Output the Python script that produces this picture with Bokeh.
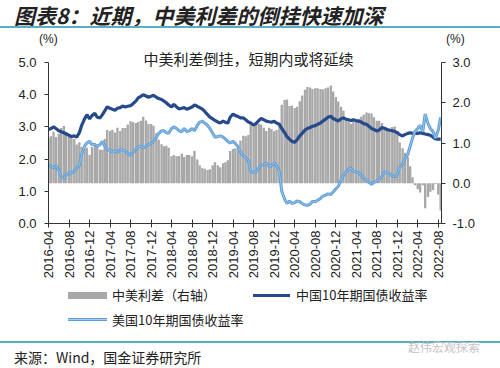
import numpy as np
import pandas as pd
from bokeh.plotting import figure
from bokeh.layouts import column
from bokeh.models import (Range1d, LinearAxis, FixedTicker, PrintfTickFormatter,
                          DatetimeTickFormatter, Label, ColumnDataSource, Div)
from bokeh.embed import file_html
from bokeh.resources import INLINE

# ---------------- data (semi-monthly readings, 2016-04 .. 2022-08) ----------------
cn_yield = [
    2.92, 2.95, 3.00, 2.95, 2.88, 2.85, 2.82, 2.78, 2.74, 2.70, 2.72, 2.68, 2.82, 3.05, 3.25, 3.38,
    3.25, 3.35, 3.42, 3.30, 3.28, 3.38, 3.50, 3.62, 3.58, 3.55, 3.52, 3.58, 3.60, 3.65, 3.62, 3.64,
    3.66, 3.72, 3.80, 3.90, 3.95, 4.00, 3.96, 3.92, 3.95, 3.98, 3.92, 3.88, 3.85, 3.80, 3.75, 3.68,
    3.62, 3.70, 3.62, 3.56, 3.58, 3.60, 3.55, 3.58, 3.62, 3.68, 3.64, 3.60, 3.55, 3.48, 3.38, 3.30,
    3.25, 3.20, 3.15, 3.12, 3.18, 3.14, 3.12, 3.30, 3.40, 3.35, 3.32, 3.28, 3.28, 3.22, 3.15, 3.12,
    3.06, 3.10, 3.20, 3.26, 3.22, 3.18, 3.16, 3.15, 3.17, 3.12, 3.08, 2.95, 2.82, 2.70, 2.62, 2.55,
    2.52, 2.60, 2.72, 2.80, 2.90, 2.95, 2.98, 3.02, 3.04, 3.08, 3.12, 3.18, 3.24, 3.30, 3.33, 3.26,
    3.22, 3.18, 3.25, 3.28, 3.24, 3.22, 3.20, 3.22, 3.19, 3.18, 3.15, 3.10, 3.08, 3.02, 2.95, 2.92,
    2.87, 2.90, 2.98, 2.96, 2.92, 2.90, 2.88, 2.86, 2.82, 2.76, 2.72, 2.76, 2.80, 2.82, 2.80, 2.80,
    2.80, 2.82, 2.80, 2.78, 2.76, 2.74, 2.68, 2.63, 2.62, 2.62,
]
us_yield = [
    1.80, 1.78, 1.72, 1.80, 1.65, 1.48, 1.40, 1.50, 1.58, 1.56, 1.62, 1.72, 1.80, 2.15, 2.40, 2.50,
    2.55, 2.45, 2.45, 2.40, 2.45, 2.55, 2.40, 2.30, 2.28, 2.22, 2.26, 2.20, 2.30, 2.28, 2.25, 2.18,
    2.12, 2.20, 2.30, 2.38, 2.40, 2.35, 2.40, 2.45, 2.48, 2.55, 2.68, 2.80, 2.88, 2.88, 2.82, 2.80,
    2.95, 3.00, 2.95, 2.88, 2.85, 2.95, 2.85, 2.88, 2.95, 2.88, 3.05, 3.15, 3.18, 3.12, 3.05, 2.95,
    2.80, 2.68, 2.70, 2.72, 2.68, 2.62, 2.55, 2.50, 2.55, 2.48, 2.38, 2.22, 2.10, 2.05, 1.95, 1.62,
    1.58, 1.60, 1.72, 1.80, 1.84, 1.88, 1.78, 1.80, 1.88, 1.80, 1.60, 1.00, 0.75, 0.62, 0.70, 0.62,
    0.65, 0.70, 0.68, 0.62, 0.58, 0.56, 0.60, 0.68, 0.68, 0.72, 0.78, 0.85, 0.88, 0.92, 0.90, 0.98,
    1.08, 1.15, 1.35, 1.48, 1.62, 1.68, 1.72, 1.62, 1.60, 1.58, 1.50, 1.40, 1.32, 1.28, 1.22, 1.28,
    1.32, 1.35, 1.48, 1.60, 1.58, 1.55, 1.48, 1.45, 1.52, 1.75, 1.85, 2.00, 2.15, 2.40, 2.65, 2.85,
    2.95, 3.05, 2.85, 3.40, 3.10, 2.95, 2.85, 2.65, 2.90, 3.30,
]
spread = [
    1.12, 1.17, 1.28, 1.15, 1.23, 1.37, 1.42, 1.28, 1.16, 1.14, 1.10, 0.96, 1.02, 0.90, 0.85, 0.88,
    0.70, 0.90, 0.97, 0.90, 0.83, 0.83, 1.10, 1.32, 1.30, 1.33, 1.26, 1.38, 1.30, 1.37, 1.37, 1.46,
    1.54, 1.52, 1.50, 1.52, 1.55, 1.65, 1.56, 1.47, 1.47, 1.43, 1.24, 1.08, 0.97, 0.92, 0.93, 0.88,
    0.67, 0.70, 0.67, 0.68, 0.73, 0.65, 0.70, 0.70, 0.67, 0.80, 0.59, 0.45, 0.37, 0.36, 0.33, 0.35,
    0.45, 0.52, 0.45, 0.40, 0.50, 0.52, 0.57, 0.80, 0.85, 0.87, 0.94, 1.06, 1.18, 1.17, 1.20, 1.50,
    1.48, 1.50, 1.48, 1.46, 1.38, 1.30, 1.38, 1.35, 1.29, 1.32, 1.48, 1.95, 2.07, 2.08, 1.92, 1.93,
    1.87, 1.90, 2.04, 2.18, 2.32, 2.39, 2.38, 2.34, 2.36, 2.36, 2.34, 2.33, 2.36, 2.38, 2.43, 2.28,
    2.14, 2.03, 1.90, 1.80, 1.62, 1.54, 1.48, 1.60, 1.59, 1.60, 1.65, 1.70, 1.76, 1.74, 1.73, 1.64,
    1.55, 1.55, 1.50, 1.36, 1.34, 1.35, 1.40, 1.41, 1.30, 1.01, 0.87, 0.76, 0.65, 0.42, 0.15, -0.05,
    -0.15, -0.23, -0.05, -0.62, -0.34, -0.21, -0.17, -0.02, -0.28, -0.68,
]
dates = pd.date_range("2016-04-01", periods=len(cn_yield), freq="SMS")
tick_labels = ["2016-04", "2016-08", "2016-12", "2017-04", "2017-08", "2017-12", "2018-04",
               "2018-08", "2018-12", "2019-04", "2019-08", "2019-12", "2020-04", "2020-08",
               "2020-12", "2021-04", "2021-08", "2021-12", "2022-04", "2022-08"]
left_ticks = [0, 1, 2, 3, 4, 5]
right_ticks = [-1, 0, 1, 2, 3]

title_text = "图表8：近期，中美利差的倒挂快速加深"
subtitle_text = "中美利差倒挂，短期内或将延续"
source_text = "来源：Wind，国金证券研究所"
watermark_text = "赵伟宏观探索"
unit_text = "(%)"
name_spread = "中美利差（右轴）"
name_cn = "中国10年期国债收益率"
name_us = "美国10年期国债收益率"

# ---------------- styling ----------------
C_CN = "#274A8C"
C_US = "#5F9FD9"
C_US_CORE = "#A8CBEC"
C_BAR = "#A8A8A8"
C_TEAL = "#5AAEC2"
C_TXT = "#222222"
CJK = "Noto Sans CJK SC"
LAT = "Liberation Sans"

TOP_H = 46          # header div height = page y of frame top
FRAME_B = 223       # page y of frame bottom (value 0 on left axis)
FRAME_L, FRAME_R = 48, 441
FIG_B = 283         # page y of figure bottom
FIG_H = FIG_B - TOP_H
BOT_H = 368 - FIG_B
PX_L = (FRAME_B - 62) / 5.0     # px per unit, left axis (5.0 at y=62)
PX_R = (FRAME_B - 62) / 4.0     # px per unit, right axis (3.0 at y=62)
frame_h = FRAME_B - TOP_H

# ---------------- header / footer (HTML) ----------------
header_html = f"""
<div style="position:relative;width:500px;height:{TOP_H}px;font-family:'{CJK}';color:{C_TXT};">
  <div style="position:absolute;left:14px;top:3px;font-size:21px;line-height:25px;
              font-weight:bold;font-style:italic;white-space:nowrap;">{title_text}</div>
  <div style="position:absolute;left:0;top:26px;width:500px;height:2px;background:{C_TEAL};"></div>
  <div style="position:absolute;left:39px;top:33px;font-family:'{LAT}';font-size:12px;
              line-height:13px;">{unit_text}</div>
  <div style="position:absolute;left:446px;top:33px;font-family:'{LAT}';font-size:12px;
              line-height:13px;">{unit_text}</div>
</div>"""


def yrel(page_y):
    return page_y - FIG_B


legend_font = "font-size:13px;line-height:16px;white-space:nowrap;"
footer_html = f"""
<div style="position:relative;width:500px;height:{BOT_H}px;font-family:'{CJK}';color:{C_TXT};">
  <div style="position:absolute;left:68px;top:{yrel(292)}px;width:39px;height:7px;background:{C_BAR};"></div>
  <div style="position:absolute;left:112px;top:{yrel(287)}px;{legend_font}">{name_spread}</div>
  <div style="position:absolute;left:253px;top:{yrel(294)}px;width:37px;height:3px;background:{C_CN};"></div>
  <div style="position:absolute;left:296px;top:{yrel(287)}px;{legend_font}">{name_cn}</div>
  <div style="position:absolute;left:68px;top:{yrel(318)}px;width:39px;height:3px;background:{C_US};"></div>
  <div style="position:absolute;left:68px;top:{yrel(319)}px;width:39px;height:1px;background:{C_US_CORE};"></div>
  <div style="position:absolute;left:112px;top:{yrel(312)}px;{legend_font}">{name_us}</div>
  <div style="position:absolute;left:0;top:{yrel(341)}px;width:500px;height:2px;background:{C_TEAL};"></div>
  <div style="position:absolute;left:14px;top:{yrel(349)}px;font-size:14px;line-height:17px;
              white-space:nowrap;">{source_text}</div>
  <div style="position:absolute;left:408px;top:{yrel(340)}px;font-size:12px;line-height:14px;
              color:#C4C4C4;white-space:nowrap;">{watermark_text}</div>
</div>"""
div_top = Div(text=header_html, width=500, height=TOP_H, margin=0)
div_bot = Div(text=footer_html, width=500, height=BOT_H, margin=0)

# ---------------- figure ----------------
src = ColumnDataSource(dict(x=dates, cn=cn_yield, us=us_yield, sp=spread))

p = figure(width=500, height=FIG_H, output_backend="svg", toolbar_location=None,
           x_axis_type="datetime",
           x_range=Range1d(pd.Timestamp("2016-04-01"), pd.Timestamp("2022-08-20")),
           y_range=Range1d(0, frame_h / PX_L),
           min_border_left=FRAME_L, min_border_right=500 - FRAME_R,
           min_border_top=0, min_border_bottom=FIG_H - frame_h, margin=0)
p.outline_line_color = None
p.grid.visible = False
p.background_fill_color = "white"
p.border_fill_color = "white"
p.extra_y_ranges = {"right": Range1d(-1, -1 + frame_h / PX_R)}

half_month_ms = 14 * 24 * 3600 * 1000
bars = p.vbar(x="x", top="sp", bottom=0, width=half_month_ms, source=src,
              y_range_name="right", fill_color=C_BAR, line_color=None)
cn_r = p.line(x="x", y="cn", source=src, line_color=C_CN, line_width=3.2)
us_r = p.line(x="x", y="us", source=src, line_color=C_US, line_width=3.0)
us_core = p.line(x="x", y="us", source=src, line_color=C_US_CORE, line_width=0.8)

# x axis
tick_ms = [pd.Timestamp(t + "-01").timestamp() * 1000 for t in tick_labels]
xa = p.xaxis[0]
xa.ticker = FixedTicker(ticks=tick_ms)
xa.formatter = DatetimeTickFormatter(years="%Y-%m", months="%Y-%m", days="%Y-%m",
                                     hours="%Y-%m", minutes="%Y-%m")
xa.major_label_orientation = np.pi / 2
xa.major_label_text_font = LAT
xa.major_label_text_font_size = "13px"
xa.major_label_text_color = C_TXT
xa.major_tick_in = 4
xa.major_tick_out = 4
xa.minor_tick_line_color = None
xa.axis_line_color = "#333333"
xa.major_tick_line_color = "#333333"
xa.major_label_standoff = 3

# left axis
ya = p.yaxis[0]
ya.ticker = FixedTicker(ticks=left_ticks)
ya.formatter = PrintfTickFormatter(format="%.1f")
ya.bounds = (0, 5)
ya.major_label_text_font = LAT
ya.major_label_text_font_size = "13px"
ya.major_label_text_color = C_TXT
ya.major_tick_in = 0
ya.major_tick_out = 4
ya.minor_tick_line_color = None
ya.axis_line_color = "#333333"
ya.major_tick_line_color = "#333333"
ya.major_label_standoff = 8

# right axis
ra = LinearAxis(y_range_name="right", ticker=FixedTicker(ticks=right_ticks),
                formatter=PrintfTickFormatter(format="%.1f"), bounds=(-1, 3))
ra.major_label_text_font = LAT
ra.major_label_text_font_size = "13px"
ra.major_label_text_color = C_TXT
ra.major_tick_in = 0
ra.major_tick_out = 4
ra.minor_tick_line_color = None
ra.axis_line_color = "#333333"
ra.major_tick_line_color = "#333333"
ra.major_label_standoff = 7
p.add_layout(ra, "right")

# subtitle inside the (extended) frame
p.add_layout(Label(x=248 - FRAME_L, y=FRAME_B - 58, x_units="screen", y_units="screen",
                   text=subtitle_text, text_font=CJK, text_font_size="15px",
                   text_color=C_TXT, text_baseline="middle", text_align="center"))

layout = column(div_top, p, div_bot, spacing=0)
open("out.html", "w").write(file_html(layout, INLINE))
